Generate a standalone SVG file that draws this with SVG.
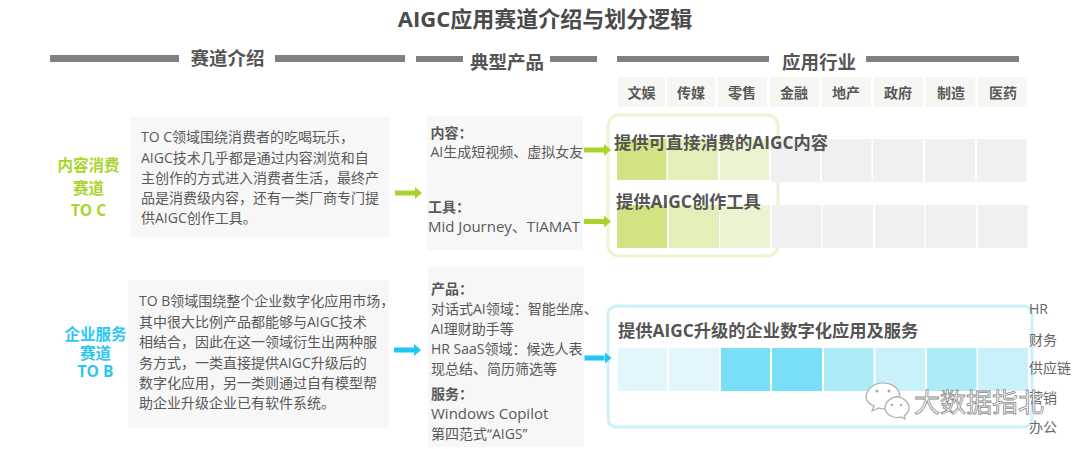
<svg xmlns="http://www.w3.org/2000/svg" width="1080" height="449" viewBox="0 0 1080 449">
<style>
text{font-family:"Open Sans","Noto Sans CJK SC",sans-serif;fill:#595959;font-size:14px}
.b{font-weight:700}
.t{font-size:22px;font-weight:700;fill:#4a4a4a;text-anchor:middle}
.h{font-size:18.5px;font-weight:700;text-anchor:middle;fill:#555}
.c{font-weight:700;text-anchor:middle}
.l{font-size:15.5px;font-weight:700;text-anchor:middle}
.lg{fill:#a9d42c}.lb{fill:#2bc7f2}
.s{font-size:17.3px;font-weight:700;fill:#555}
.w{font-size:15px}
.bar{fill:#7f7f7f}
.box{fill:#f7f7f7}
.hc{fill:#f6f6f2}
.g0{fill:#f0f0f0}.g1{fill:#d2e384}.g2{fill:#e2efb8}.g3{fill:#ebf4d0}
.b1{fill:#e3f6fc}.b2{fill:#79dff7}.b3{fill:#aeebf9}.b4{fill:#c9f1fb}
.ag{stroke:#a9d42c;stroke-width:5;fill:none;marker-end:url(#mg)}
.ab{stroke:#1fc6f3;stroke-width:5;fill:none;marker-end:url(#mb)}
.r{fill:#666}
.wm{font-size:26px;fill:#fff;stroke:#8a8a8a;stroke-width:.8px}
.wi{fill:#fff;stroke:#aaa;stroke-width:1.2}
</style>
<defs>
<marker id="mg" markerUnits="userSpaceOnUse" markerWidth="7" markerHeight="12" refX="0" refY="6" orient="auto"><path d="M0 0L7 6L0 12Z" fill="#a9d42c"/></marker>
<marker id="mb" markerUnits="userSpaceOnUse" markerWidth="7" markerHeight="12" refX="0" refY="6" orient="auto"><path d="M0 0L7 6L0 12Z" fill="#1fc6f3"/></marker>
</defs>
<rect width="1080" height="449" fill="#fff"/>
<text id="title" class="t" x="545" y="27">AIGC应用赛道介绍与划分逻辑</text>
<g id="header-intro">
<rect class="bar" x="50" y="55" width="129" height="7"/><rect class="bar" x="275" y="55" width="130" height="7"/>
<text class="h" x="227.500" y="65">赛道介绍</text></g>
<g id="header-product">
<rect class="bar" x="416" y="56" width="47" height="6"/><rect class="bar" x="550" y="56" width="47" height="6"/>
<text class="h" x="507" y="69">典型产品</text></g>
<g id="header-industry">
<rect class="bar" x="617" y="56" width="152" height="6"/><rect class="bar" x="866" y="56" width="153" height="6"/>
<text class="h" x="819" y="69">应用行业</text></g>
<g id="industry-heads">
<rect class="hc" x="618" y="77" width="47" height="30"/><text class="c" x="641.5" y="98">文娱</text>
<rect class="hc" x="667.5" y="77" width="47.5" height="30"/><text class="c" x="691" y="98">传媒</text>
<rect class="hc" x="718" y="77" width="49" height="30"/><text class="c" x="742" y="98">零售</text>
<rect class="hc" x="770" y="77" width="49" height="30"/><text class="c" x="794" y="98">金融</text>
<rect class="hc" x="822" y="77" width="49" height="30"/><text class="c" x="846" y="98">地产</text>
<rect class="hc" x="874" y="77" width="49" height="30"/><text class="c" x="898" y="98">政府</text>
<rect class="hc" x="926" y="77" width="49.5" height="30"/><text class="c" x="951" y="98">制造</text>
<rect class="hc" x="978" y="77" width="49" height="30"/><text class="c" x="1003" y="98">医药</text>
</g>
<g id="label-c"><text class="l lg" x="88.5" y="171">内容消费</text><text class="l lg" x="88.5" y="194">赛道</text><text class="l lg" x="88.5" y="216">TO C</text></g>
<g id="intro-c"><rect class="box" x="130" y="117" width="260" height="120"/>
<text x="141" y="142">TO C领域围绕消费者的吃喝玩乐，</text>
<text x="141" y="162.500">AIGC技术几乎都是通过内容浏览和自</text>
<text x="141" y="183">主创作的方式进入消费者生活，最终产</text>
<text x="141" y="203">品是消费级内容，还有一类厂商专门提</text>
<text x="141" y="223">供AIGC创作工具。</text></g>
<g id="product-c"><rect class="box" x="427" y="116" width="156" height="134"/>
<text class="b" x="430.500" y="138">内容：</text>
<text x="430.500" y="157">AI生成短视频、虚拟女友</text>
<text class="b" x="428" y="212">工具：</text>
<text class="w" x="428" y="232">Mid Journey、TIAMAT</text></g>
<g id="scope-c">
<rect x="608" y="115" width="170" height="141" rx="11" fill="none" stroke="#ebf4d0" stroke-width="3"/>
<rect class="g1" x="617" y="139" width="49.500" height="41"/><rect class="g2" x="668" y="139" width="50" height="41"/><rect class="g3" x="720" y="139" width="49" height="41"/>
<rect class="g0" x="771" y="139" width="49" height="43"/><rect class="g0" x="822" y="139" width="49.500" height="43"/><rect class="g0" x="873" y="139" width="50" height="43"/><rect class="g0" x="925" y="139" width="50" height="43"/><rect class="g0" x="977" y="139" width="49.500" height="43"/>
<rect class="g1" x="617" y="205" width="50" height="43"/><rect class="g2" x="669" y="205" width="50" height="43"/><rect class="g3" x="720" y="205" width="50" height="43"/>
<rect class="g0" x="772" y="205" width="49.500" height="43"/><rect class="g0" x="823" y="205" width="50" height="43"/><rect class="g0" x="875" y="205" width="49.500" height="43"/><rect class="g0" x="926" y="205" width="50" height="43"/><rect class="g0" x="978" y="205" width="49.500" height="43"/>
<text class="s" x="614" y="149">提供可直接消费的AIGC内容</text>
<text class="s" x="616" y="208">提供AIGC创作工具</text></g>
<g id="label-b"><text class="l lb" x="95.500" y="340">企业服务</text><text class="l lb" x="95.500" y="359">赛道</text><text class="l lb" x="95.500" y="377">TO B</text></g>
<g id="intro-b"><rect class="box" x="128" y="280" width="260.500" height="148"/>
<text x="139" y="306">TO B领域围绕整个企业数字化应用市场，</text>
<text x="139" y="327">其中很大比例产品都能够与AIGC技术</text>
<text x="139" y="347">相结合，因此在这一领域衍生出两种服</text>
<text x="139" y="368">务方式，一类直接提供AIGC升级后的</text>
<text x="139" y="387.500">数字化应用，另一类则通过自有模型帮</text>
<text x="139" y="408">助企业升级企业已有软件系统。</text></g>
<g id="product-b"><rect class="box" x="428" y="267" width="156" height="180"/>
<text class="b" x="431" y="294">产品：</text>
<text x="431" y="314">对话式AI领域：智能坐席、</text>
<text x="431" y="333.500">AI理财助手等</text>
<text x="431" y="353.500">HR SaaS领域：候选人表</text>
<text x="431" y="374">现总结、简历筛选等</text>
<text class="b" x="431" y="399">服务：</text>
<text class="w" x="431" y="418.500">Windows Copilot</text>
<text x="431" y="439">第四范式“AIGS”</text></g>
<g id="scope-b">
<rect x="608" y="306" width="424" height="121" rx="8" fill="none" stroke="#cdf1fb" stroke-width="3"/>
<rect class="b1" x="618" y="348" width="49" height="43"/><rect class="b1" x="669" y="348" width="50" height="43"/><rect class="b2" x="721" y="348" width="49" height="43"/><rect class="b2" x="772" y="348" width="50" height="43"/><rect class="b3" x="824" y="348" width="49.500" height="43"/><rect class="b4" x="875.500" y="348" width="49.500" height="43"/><rect class="b3" x="927" y="348" width="49.500" height="43"/><rect class="b4" x="978" y="348" width="50" height="43"/>
<text class="s" x="618" y="337">提供AIGC升级的企业数字化应用及服务</text></g>
<g id="connectors">
<path class="ag" d="M395 193H415"/>
<path class="ag" d="M584 150H604"/>
<path class="ag" d="M584 221.500H604"/>
<path class="ab" d="M394 350H414"/>
<path class="ab" d="M584.500 358H604.500"/>
</g>
<g id="right-labels">
<text class="r" x="1029" y="314">HR</text>
<text class="r" x="1029" y="345">财务</text>
<text class="r" x="1029" y="373">供应链</text>
<text class="r" x="1029" y="403">营销</text>
<text class="r" x="1029" y="432">办公</text></g>
<g id="watermark">
<path class="wi" d="M866 398c0-9 8-15 17-15s16 5 17 13c-7 0-14 5-14 12v1c-3 0-5 0-7-1l-7 3 2-5c-5-2-8-6-8-8z"/>
<path class="wi" d="M887 408c0-6 6-11 12-11s12 5 12 11c0 3-2 6-5 8l1 3-5-2c-7 2-15-3-15-9z" transform="translate(-2 0)"/>
<circle cx="877" cy="391" r="1.500" fill="#aaa"/><circle cx="889" cy="391" r="1.500" fill="#aaa"/><circle cx="892" cy="405" r="1.200" fill="#aaa"/><circle cx="901" cy="405" r="1.200" fill="#aaa"/>
<text class="wm" x="914" y="412">大数据指北</text></g>
</svg>
